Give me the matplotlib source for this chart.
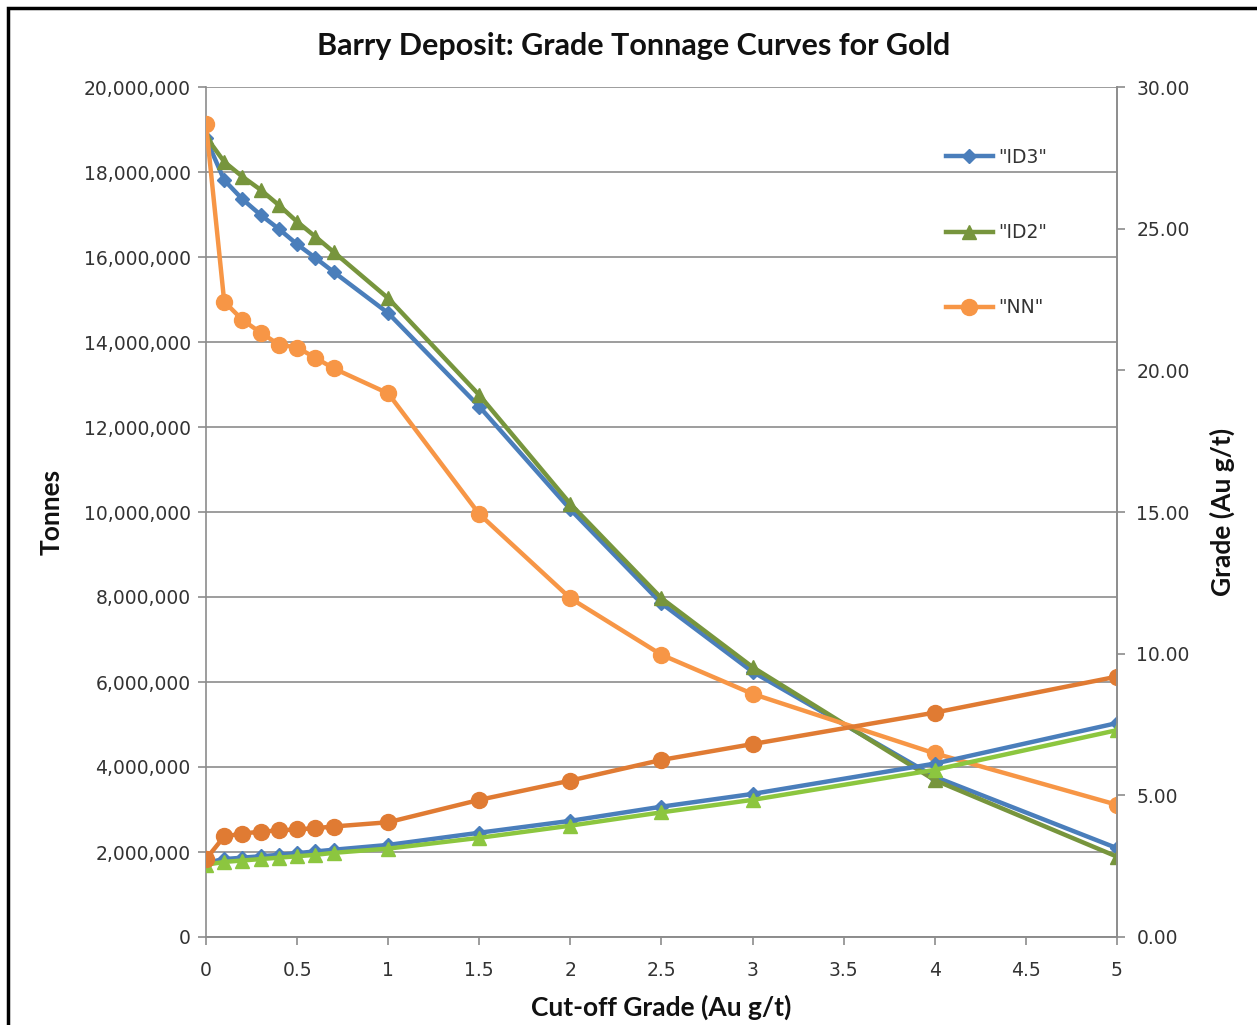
import numpy as np
import matplotlib.pyplot as plt
from matplotlib.ticker import FuncFormatter, MultipleLocator
from matplotlib.patches import Rectangle

# cut-off grades (Au g/t)
cutoff = [0, 0.1, 0.2, 0.3, 0.4, 0.5, 0.6, 0.7, 1, 1.5, 2, 2.5, 3, 4, 5]

# tonnes above cut-off
ton_id3 = [18.79e6, 17.81e6, 17.36e6, 16.99e6, 16.66e6, 16.30e6, 15.98e6, 15.65e6,
           14.68e6, 12.48e6, 10.06e6, 7.85e6, 6.24e6, 3.77e6, 2.09e6]
ton_id2 = [18.83e6, 18.24e6, 17.89e6, 17.58e6, 17.22e6, 16.83e6, 16.48e6, 16.12e6,
           15.03e6, 12.75e6, 10.19e6, 7.97e6, 6.35e6, 3.69e6, 1.89e6]
ton_nn = [19.13e6, 14.95e6, 14.52e6, 14.22e6, 13.94e6, 13.87e6, 13.63e6, 13.38e6,
          12.79e6, 9.95e6, 7.97e6, 6.64e6, 5.72e6, 4.32e6, 3.11e6]

# average grade above cut-off (Au g/t)
gr_id3 = [2.62, 2.75, 2.80, 2.85, 2.90, 2.96, 3.02, 3.08, 3.25, 3.68, 4.10, 4.60, 5.05, 6.12, 7.55]
gr_id2 = [2.55, 2.65, 2.70, 2.75, 2.80, 2.85, 2.90, 2.97, 3.12, 3.50, 3.93, 4.40, 4.84, 5.90, 7.30]
gr_nn = [2.75, 3.55, 3.65, 3.72, 3.76, 3.80, 3.84, 3.90, 4.05, 4.84, 5.52, 6.25, 6.81, 7.92, 9.19]

labels = ['"ID3"', '"ID2"', '"NN"']

blue = '#4a7ebb'
green_t = '#77953d'
green_g = '#8cc63f'
orange_t = '#f79646'
orange_g = '#e07b33'
grid_c = '#8c8c8c'

fig = plt.figure(figsize=(12.57, 10.25), dpi=100)
fig.patches.append(Rectangle((8 / 1257, -0.01), 1.0, 1 - 8 / 1025 + 0.01,
                             transform=fig.transFigure, fill=False,
                             edgecolor='black', linewidth=2.5))

ax = fig.add_axes([206 / 1257, 88 / 1025, 911 / 1257, 850 / 1025])
ax2 = ax.twinx()

lw = 3.2
h1, = ax.plot(cutoff, ton_id3, color=blue, lw=lw, marker='D', ms=7.5, zorder=3)
h2, = ax.plot(cutoff, ton_id2, color=green_t, lw=lw, marker='^', ms=9.5, zorder=3)
h3, = ax.plot(cutoff, ton_nn, color=orange_t, lw=lw, marker='o', ms=11.5, zorder=3)

ax2.plot(cutoff, gr_id3, color=blue, lw=lw, marker='D', ms=7.5)
ax2.plot(cutoff, gr_id2, color=green_g, lw=lw, marker='^', ms=9.5)
ax2.plot(cutoff, gr_nn, color=orange_g, lw=lw, marker='o', ms=11.5)

ax.set_xlim(0, 5)
ax.set_ylim(0, 20e6)
ax2.set_ylim(0, 30)
ax.xaxis.set_major_locator(MultipleLocator(0.5))
ax.yaxis.set_major_locator(MultipleLocator(2e6))
ax2.yaxis.set_major_locator(MultipleLocator(5))
ax.xaxis.set_major_formatter(FuncFormatter(lambda v, p: '%g' % v))
ax.yaxis.set_major_formatter(FuncFormatter(lambda v, p: '{:,.0f}'.format(v)))
ax2.yaxis.set_major_formatter(FuncFormatter(lambda v, p: '%.2f' % v))

ax.grid(axis='y', color=grid_c, lw=1.2)
ax.set_axisbelow(True)
for a in (ax, ax2):
    a.spines['top'].set_visible(False)
    for s in ('left', 'right', 'bottom'):
        a.spines[s].set_color(grid_c)
        a.spines[s].set_linewidth(1.2)
    a.tick_params(colors=grid_c, labelcolor='#333333', length=6, width=1.2,
                  labelsize=13.5, labelfontfamily='DejaVu Sans')
ax.tick_params(axis='x', pad=11)
ax.tick_params(axis='y', pad=5)
ax2.tick_params(axis='y', pad=8)
ax2.spines['left'].set_visible(False)

lab_font = dict(family='Lato', fontweight='bold', fontsize=19, color='#111111')
ax.set_ylabel('Tonnes', **lab_font)
ax2.set_ylabel('Grade (Au g/t)', **lab_font)
ax.set_xlabel('Cut-off Grade (Au g/t)', **lab_font)
ax.yaxis.set_label_coords((52 - 206) / 911, 0.5)
ax2.yaxis.set_label_coords((1222 - 206) / 911, 0.5)
ax.xaxis.set_label_coords(0.5, (937 - 1007) / 850)
for lab in (ax.yaxis.label, ax2.yaxis.label, ax.xaxis.label):
    lab.set_ha('center')
    lab.set_va('center')

fig.text(634 / 1257, 1 - 46 / 1025, 'Barry Deposit: Grade Tonnage Curves for Gold',
         ha='center', va='center', family='Lato', fontweight='bold', fontsize=22,
         color='#111111')

leg = ax2.legend([h1, h2, h3], labels, loc='upper left',
                 bbox_to_anchor=(929 / 1257, 1 - 131 / 1025),
                 bbox_transform=fig.transFigure, frameon=False,
                 handlelength=2.5, handletextpad=0.27, labelspacing=3.0,
                 prop={'family': 'DejaVu Sans', 'size': 13.5})
for t in leg.get_texts():
    t.set_color('#333333')

fig.savefig('out.png', dpi=100)
